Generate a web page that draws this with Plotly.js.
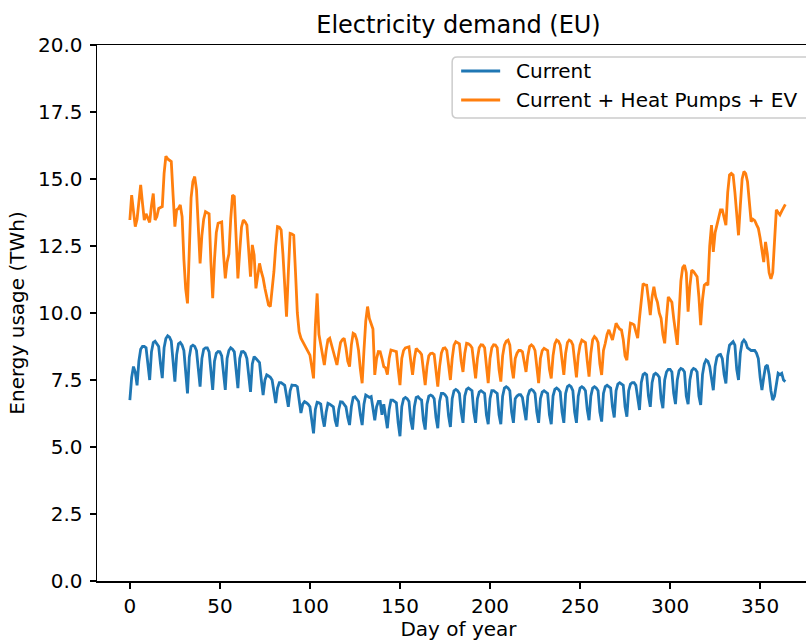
<!DOCTYPE html>
<html>
<head>
<meta charset="utf-8">
<script src="https://cdn.plot.ly/plotly-3.0.1.min.js"></script>
<style>
  html, body { margin: 0; padding: 0; overflow: hidden; background: #fff; }
  #chart { width: 830px; height: 641px; }
</style>
</head>
<body>
<div id="chart"></div>
<script>
// Day of year (x axis categories)
const days = Array.from({length: 365}, (_, i) => i);

// Series: Current (TWh)
const current = [
  6.75, 7.6, 8.0, 7.8, 7.3, 8.2, 8.65, 8.75, 8.75, 8.7,
  8.1, 7.5, 8.55, 8.9, 8.95, 8.85, 8.75, 8.1, 7.57, 8.7,
  9.05, 9.15, 9.1, 8.95, 8.2, 7.44, 8.45, 8.85, 8.9, 8.8,
  8.6, 7.8, 7.0, 8.35, 8.75, 8.8, 8.75, 8.6, 7.9, 7.25,
  8.3, 8.65, 8.7, 8.7, 8.55, 7.8, 7.13, 8.2, 8.5, 8.56,
  8.55, 8.4, 7.7, 7.13, 8.3, 8.6, 8.7, 8.65, 8.55, 7.9,
  7.2, 8.3, 8.55, 8.56, 8.5, 8.3, 7.6, 7.06, 8.1, 8.37,
  8.3, 8.2, 8.15, 7.5, 6.94, 7.5, 7.69, 7.65, 7.6, 7.5,
  7.0, 6.64, 7.2, 7.4, 7.4, 7.35, 7.3, 6.9, 6.5, 7.1,
  7.31, 7.3, 7.3, 7.25, 6.7, 6.27, 6.6, 6.69, 6.65, 6.6,
  6.5, 6.0, 5.51, 6.4, 6.67, 6.65, 6.6, 6.1, 5.76, 6.3,
  6.63, 6.6, 6.55, 6.5, 6.0, 5.76, 6.4, 6.69, 6.68, 6.6,
  6.5, 6.1, 5.82, 6.5, 6.85, 6.88, 6.8, 6.7, 6.2, 5.82,
  6.6, 6.94, 6.9, 6.85, 6.88, 6.4, 6.0, 6.5, 6.7, 6.7,
  6.2, 6.6, 6.1, 5.7, 6.4, 6.75, 6.75, 6.7, 6.65, 5.9,
  5.4, 6.5, 6.8, 6.85, 6.8, 6.7, 6.0, 5.65, 6.5, 6.85,
  6.88, 6.8, 6.75, 6.0, 5.65, 6.6, 6.9, 6.94, 6.9, 6.8,
  6.1, 5.7, 6.7, 7.0, 7.0, 6.95, 6.85, 6.15, 5.75, 6.8,
  7.1, 7.15, 7.1, 7.0, 6.3, 5.9, 6.9, 7.15, 7.2, 7.15,
  7.1, 6.3, 5.9, 6.8, 7.05, 7.1, 7.05, 7.0, 6.2, 5.85,
  6.8, 7.1, 7.1, 7.05, 7.0, 6.2, 5.85, 6.9, 7.2, 7.25,
  7.2, 7.1, 6.3, 5.9, 6.8, 6.9, 6.95, 6.95, 6.85, 6.4,
  6.0, 6.9, 7.1, 7.15, 7.1, 7.0, 6.3, 5.9, 6.8, 7.05,
  7.1, 7.05, 7.0, 6.2, 5.85, 6.9, 7.15, 7.2, 7.15, 7.05,
  6.3, 5.9, 7.0, 7.25, 7.3, 7.25, 7.1, 6.3, 5.9, 6.9,
  7.2, 7.25, 7.2, 7.1, 6.4, 6.0, 6.9, 7.2, 7.25, 7.2,
  7.1, 6.3, 5.95, 7.0, 7.25, 7.3, 7.25, 7.2, 6.5, 6.1,
  7.1, 7.35, 7.4, 7.35, 7.3, 6.5, 6.13, 7.1, 7.35, 7.4,
  7.4, 7.3, 6.8, 6.38, 7.4, 7.7, 7.75, 7.7, 6.9, 6.5,
  7.4, 7.7, 7.75, 7.7, 7.6, 6.8, 6.45, 7.5, 7.8, 7.9,
  7.9, 7.8, 7.0, 6.6, 7.5, 7.85, 7.93, 7.9, 7.8, 6.9,
  6.6, 7.5, 7.85, 7.93, 7.9, 7.8, 6.9, 6.57, 7.7, 8.1,
  8.25, 8.2, 8.0, 7.5, 7.12, 8.0, 8.35, 8.43, 8.45, 8.3,
  7.7, 7.37, 8.4, 8.8, 8.87, 8.93, 8.8, 7.9, 7.5, 8.5,
  8.9, 8.99, 8.9, 8.7, 8.65, 8.6, 8.6, 8.6, 8.5, 8.3,
  7.6, 7.12, 7.6, 8.0, 8.06, 7.7, 7.1, 6.75, 6.9, 7.4,
  7.75, 7.7, 7.75, 7.5, 7.44
];

// Series: Current + Heat Pumps + EV (TWh)
const withHpEv = [
  13.47, 14.4, 13.8, 13.22, 13.5, 14.2, 14.78, 14.1, 13.47, 13.7,
  13.5, 13.38, 14.0, 14.46, 13.47, 13.6, 13.9, 13.95, 13.97, 15.2,
  15.85, 15.75, 15.7, 15.65, 14.4, 13.22, 13.85, 13.9, 14.03, 13.6,
  12.0, 10.9, 10.36, 12.8, 14.3, 14.9, 15.09, 14.6, 13.0, 11.85,
  12.9, 13.5, 13.78, 13.75, 13.7, 11.9, 10.55, 12.0, 13.0, 13.35,
  13.38, 13.4, 12.2, 11.29, 11.9, 12.2, 13.5, 14.4, 14.35, 12.8,
  11.29, 12.3, 13.2, 13.47, 13.4, 13.28, 12.2, 11.36, 12.54, 12.17,
  10.92, 11.4, 11.85, 11.54, 11.3, 10.92, 10.6, 10.3, 10.24, 10.8,
  11.54, 12.5, 13.22, 13.2, 13.1, 12.2, 10.8, 9.86, 11.5, 12.97,
  12.95, 12.9, 11.5, 10.0, 9.3, 9.06, 8.93, 8.8, 8.68, 8.55,
  8.43, 8.0, 7.56, 9.5, 10.73, 9.2, 8.8, 8.5, 8.06, 8.6,
  9.0, 9.06, 8.8, 8.62, 8.3, 8.06, 8.5, 8.9, 9.0, 9.06,
  8.7, 8.2, 8.0, 8.8, 9.24, 9.2, 9.0, 8.6, 7.9, 7.38,
  8.6, 9.7, 10.24, 9.8, 9.6, 9.4, 7.69, 8.3, 8.56, 8.55,
  8.3, 8.0, 7.95, 7.7, 8.3, 8.62, 8.6, 8.58, 8.56, 7.9,
  7.31, 8.3, 8.6, 8.7, 8.72, 8.74, 8.2, 7.69, 8.3, 8.68,
  8.6, 8.55, 8.45, 7.9, 7.31, 8.0, 8.4, 8.49, 8.5, 8.45,
  7.8, 7.25, 8.0, 8.5, 8.68, 8.7, 8.6, 8.0, 7.5, 8.3,
  8.8, 8.93, 8.9, 8.85, 8.2, 7.8, 8.5, 8.87, 8.85, 8.8,
  8.7, 8.1, 7.56, 8.3, 8.7, 8.81, 8.8, 8.7, 7.9, 7.38,
  8.3, 8.7, 8.81, 8.8, 8.7, 7.9, 7.44, 8.4, 8.8, 8.95,
  8.99, 8.8, 8.0, 7.56, 8.3, 8.5, 8.6, 8.6, 8.55, 8.2,
  7.8, 8.4, 8.75, 8.81, 8.75, 8.6, 7.9, 7.38, 8.3, 8.6,
  8.68, 8.65, 8.6, 7.9, 7.56, 8.4, 8.85, 8.99, 8.95, 8.8,
  8.1, 7.69, 8.5, 8.9, 8.99, 8.95, 8.81, 8.1, 7.6, 8.4,
  8.8, 8.99, 8.95, 8.9, 8.2, 7.63, 8.5, 9.0, 9.12, 9.05,
  8.9, 8.1, 7.69, 8.6, 8.87, 9.2, 9.37, 9.2, 8.99, 9.3,
  9.62, 9.5, 9.4, 9.37, 9.0, 8.4, 8.24, 9.0, 9.62, 9.6,
  9.56, 9.3, 9.06, 9.8, 10.5, 11.1, 11.05, 11.04, 10.5, 9.92,
  10.6, 10.98, 10.6, 10.4, 10.0, 9.8, 9.2, 8.87, 9.8, 10.6,
  10.5, 10.4, 9.8, 9.3, 8.81, 10.0, 11.2, 11.7, 11.79, 11.5,
  10.05, 11.0, 11.6, 11.55, 11.45, 11.35, 10.6, 9.55, 10.5, 11.04,
  11.1, 11.04, 12.5, 13.28, 12.28, 13.0, 13.28, 13.6, 13.85, 13.85,
  13.5, 13.28, 14.5, 15.15, 15.21, 15.15, 14.5, 13.6, 12.9, 14.0,
  15.0, 15.28, 15.2, 14.9, 14.1, 13.41, 13.5, 13.45, 13.3, 13.16,
  12.8, 12.3, 11.9, 12.65, 12.2, 11.5, 11.27, 11.5, 12.8, 13.85,
  13.75, 13.66, 13.8, 13.9, 14.05
];

const seriesNames = ['Current', 'Current + Heat Pumps + EV'];
const seriesColors = ['#1f77b4', '#ff7f0e'];
const xTicks = [0, 50, 100, 150, 200, 250, 300, 350];
const yTicks = [0, 2.5, 5, 7.5, 10, 12.5, 15, 17.5, 20];

const traces = [
  {x: days, y: current, name: seriesNames[0], type: 'scatter', mode: 'lines',
   line: {color: seriesColors[0], width: 2.8}},
  {x: days, y: withHpEv, name: seriesNames[1], type: 'scatter', mode: 'lines',
   line: {color: seriesColors[1], width: 2.8}}
];

const W = 830, H = 641;
const L = 97, T = 45, PW = 722.7, PH = 536;
// pixel -> paper helpers (for the legend box)
const px = v => (v - L) / PW;
const py = v => (T + PH - v) / PH;

// Legend drawn as a box with line samples and text labels
const lgX0 = 452, lgX1 = 813, lgY0 = 57, lgY1 = 118, r = 5;
const boxPath = [
  `M ${px(lgX0 + r)},${py(lgY0)}`,
  `L ${px(lgX1 - r)},${py(lgY0)}`,
  `Q ${px(lgX1)},${py(lgY0)} ${px(lgX1)},${py(lgY0 + r)}`,
  `L ${px(lgX1)},${py(lgY1 - r)}`,
  `Q ${px(lgX1)},${py(lgY1)} ${px(lgX1 - r)},${py(lgY1)}`,
  `L ${px(lgX0 + r)},${py(lgY1)}`,
  `Q ${px(lgX0)},${py(lgY1)} ${px(lgX0)},${py(lgY1 - r)}`,
  `L ${px(lgX0)},${py(lgY0 + r)}`,
  `Q ${px(lgX0)},${py(lgY0)} ${px(lgX0 + r)},${py(lgY0)} Z`
].join(' ');
const itemY = [71, 100];
const shapes = [
  {type: 'path', xref: 'paper', yref: 'paper', path: boxPath,
   line: {color: '#cccccc', width: 1.5}, fillcolor: 'rgba(255,255,255,0.8)', layer: 'above'}
];
const annotations = [];
seriesNames.forEach((name, i) => {
  shapes.push({type: 'line', xref: 'paper', yref: 'paper',
               x0: px(461), x1: px(500), y0: py(itemY[i]), y1: py(itemY[i]),
               line: {color: seriesColors[i], width: 2.8}, layer: 'above'});
  annotations.push({xref: 'paper', yref: 'paper', x: px(514), y: py(itemY[i]),
                    xanchor: 'left', yanchor: 'middle', showarrow: false,
                    text: name, font: {size: 20, color: '#000'}});
});

const layout = {
  width: W, height: H,
  margin: {l: L, r: W - L - PW, t: T, b: H - T - PH, pad: 0},
  paper_bgcolor: '#ffffff', plot_bgcolor: '#ffffff',
  font: {family: 'DejaVu Sans, sans-serif', size: 20, color: '#000000'},
  title: {text: 'Electricity demand (EU)', font: {size: 24, color: '#000'},
          x: 0.5, xref: 'paper', xanchor: 'center',
          y: 1 - 25 / H, yref: 'container', yanchor: 'middle'},
  showlegend: false,
  shapes: shapes,
  annotations: annotations,
  xaxis: {range: [-18.25, 383.25], tickvals: xTicks, ticktext: xTicks.map(String),
          ticks: 'outside', ticklen: 6, tickwidth: 1.5, tickcolor: '#000',
          showline: true, mirror: true, linecolor: '#000', linewidth: 1.5,
          showgrid: false, zeroline: false, tickfont: {size: 20},
          title: {text: 'Day of year', font: {size: 20}, standoff: 8}},
  yaxis: {range: [0, 20], tickvals: yTicks, tickformat: '.1f',
          ticks: 'outside', ticklen: 6, tickwidth: 1.5, tickcolor: '#000',
          ticklabelstandoff: 3,
          showline: true, mirror: true, linecolor: '#000', linewidth: 1.5,
          showgrid: false, zeroline: false, tickfont: {size: 20},
          title: {text: 'Energy usage (TWh)', font: {size: 20}, standoff: 8}}
};

Plotly.newPlot('chart', traces, layout, {displayModeBar: false, staticPlot: true});
</script>
</body>
</html>
